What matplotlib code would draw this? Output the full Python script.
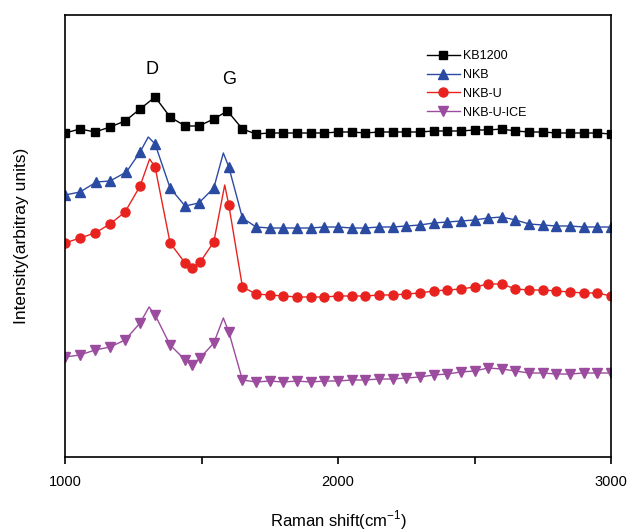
import matplotlib
matplotlib.use('Agg')
import matplotlib.pyplot as plt
from matplotlib.ticker import MultipleLocator

plt.rcParams['font.family'] = ['Liberation Sans', 'DejaVu Sans']

tail_x = list(range(1750, 3001, 50))

kb_x = [1000, 1055, 1110, 1165, 1220, 1275, 1330, 1385, 1440, 1490, 1545, 1595, 1650, 1700] + tail_x
kb_y = [324, 328, 325, 330, 336, 348, 360, 340, 331, 331, 338, 346, 328, 323,
        324, 324, 324, 324, 324, 325, 325, 324, 325, 325, 325, 325, 326, 326,
        326, 327, 327, 328, 326, 325, 325, 324, 324, 324, 324, 323]

nkb_x = [1000, 1055, 1115, 1165, 1225, 1275, 1305, 1330, 1385, 1440, 1490, 1545, 1580, 1600, 1650, 1700] + tail_x
nkb_y = [262, 265, 275, 276, 285, 305, 320, 313, 269, 251, 254, 269, 304, 290, 239, 230,
         229, 229, 229, 229, 230, 230, 229, 229, 230, 230, 231, 232, 234, 235,
         236, 237, 239, 240, 237, 233, 232, 231, 231, 230, 230, 230]
nkb_peaks = [6, 12]

nkbu_x = [1000, 1055, 1110, 1165, 1220, 1275, 1310, 1330, 1385, 1440, 1465, 1495, 1545, 1585, 1600, 1650, 1700] + tail_x
nkbu_y = [214, 219, 224, 233, 245, 271, 298, 290, 214, 194, 189, 195, 215, 272, 252, 170, 163,
          162, 161, 160, 160, 160, 161, 161, 161, 162, 162, 163, 164, 166, 167,
          168, 170, 173, 173, 168, 167, 167, 166, 165, 164, 164, 161]
nkbu_peaks = [6, 13]

ice_x = [1000, 1055, 1110, 1165, 1220, 1275, 1308, 1330, 1385, 1440, 1465, 1495, 1545, 1580, 1600, 1650, 1700] + tail_x
ice_y = [100, 102, 107, 110, 117, 134, 150, 142, 112, 97, 92, 99, 114, 139, 125, 77, 75,
         76, 75, 76, 75, 76, 76, 77, 77, 78, 78, 79, 80, 82, 83,
         85, 86, 89, 88, 86, 84, 84, 83, 83, 84, 84, 84]
ice_peaks = [6, 13]


def marks(n, skip):
    return [i for i in range(n) if i not in skip]


fig = plt.figure(figsize=(6.32, 5.31), dpi=100)
ax = fig.add_axes([65 / 632, 74 / 531, 546 / 632, 442 / 531])

ax.plot(kb_x, kb_y, color='black', lw=1.0, marker='s', ms=6, label='KB1200')
ax.plot(nkb_x, nkb_y, color='#2B4BA3', lw=1.0, marker='^', ms=7,
        markevery=marks(len(nkb_x), nkb_peaks), label='NKB')
ax.plot(nkbu_x, nkbu_y, color='#E8231F', lw=1.0, marker='o', ms=6.5,
        markevery=marks(len(nkbu_x), nkbu_peaks), label='NKB-U')
ax.plot(ice_x, ice_y, color='#9B4C9E', lw=1.0, marker='v', ms=7,
        markevery=marks(len(ice_x), ice_peaks), label='NKB-U-ICE')

ax.text(1320, 387, 'D', fontsize=13, ha='center', va='center')
ax.text(1600, 378, 'G', fontsize=13, ha='center', va='center')

ax.set_xlim(1000, 3000)
ax.set_ylim(0, 442)
ax.set_yticks([])
ax.xaxis.set_major_locator(MultipleLocator(1000))
ax.xaxis.set_minor_locator(MultipleLocator(500))
ax.tick_params(axis='x', which='both', direction='out', length=5, width=1.2, labelsize=10.5, pad=8)
for s in ax.spines.values():
    s.set_linewidth(1.2)

ax.set_xlabel('Raman shift(cm$^{\\mathregular{-1}}$)', fontsize=12, labelpad=14)
ax.set_ylabel('Intensity(arbitray units)', fontsize=12.5, labelpad=26)

ax.legend(loc='upper left', bbox_to_anchor=(422 / 632, 1 - 45 / 531), bbox_transform=fig.transFigure,
          frameon=False, fontsize=9, handlelength=2.6, handletextpad=0.3, labelspacing=0.55,
          borderaxespad=0)

fig.savefig('out.png', dpi=100)
